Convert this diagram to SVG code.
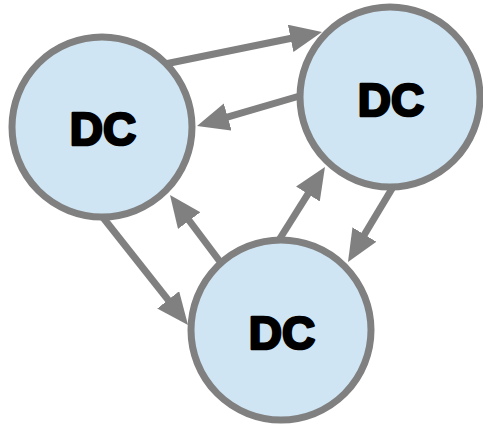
<svg xmlns="http://www.w3.org/2000/svg" width="483" height="426" viewBox="0 0 483 426">
<style>
.node circle{fill:#cfe5f3;stroke:#808080;stroke-width:7}
.node text{font-family:"Liberation Sans",Arial,sans-serif;font-weight:bold;font-size:46px;fill:#000;stroke:#000;stroke-width:2.6;stroke-linejoin:round;text-anchor:middle}
#connectors line{stroke:#808080;stroke-width:7;marker-end:url(#ah)}
</style>
<defs>
<marker id="ah" markerUnits="userSpaceOnUse" markerWidth="32" markerHeight="30" viewBox="0 0 32 30" refX="12" refY="14" orient="auto">
<path d="M0,0 L32,14 L0,28 z" fill="#808080"/>
</marker>
</defs>
<g id="connectors">
<line x1="165" y1="64" x2="302.4" y2="36"/>
<line x1="303" y1="95" x2="216.2" y2="120.4"/>
<line x1="221" y1="263" x2="182" y2="211"/>
<line x1="101" y1="215" x2="175.6" y2="309.3"/>
<line x1="279" y1="240" x2="314.3" y2="183.9"/>
<line x1="393" y1="187" x2="358.3" y2="244.8"/>
</g>
<g id="dc1" class="node"><circle cx="102" cy="127" r="90"/><text x="103" y="145">DC</text></g>
<g id="dc2" class="node"><circle cx="390" cy="97" r="90"/><text x="391" y="116">DC</text></g>
<g id="dc3" class="node"><circle cx="281" cy="330" r="90"/><text x="282" y="349">DC</text></g>
</svg>
